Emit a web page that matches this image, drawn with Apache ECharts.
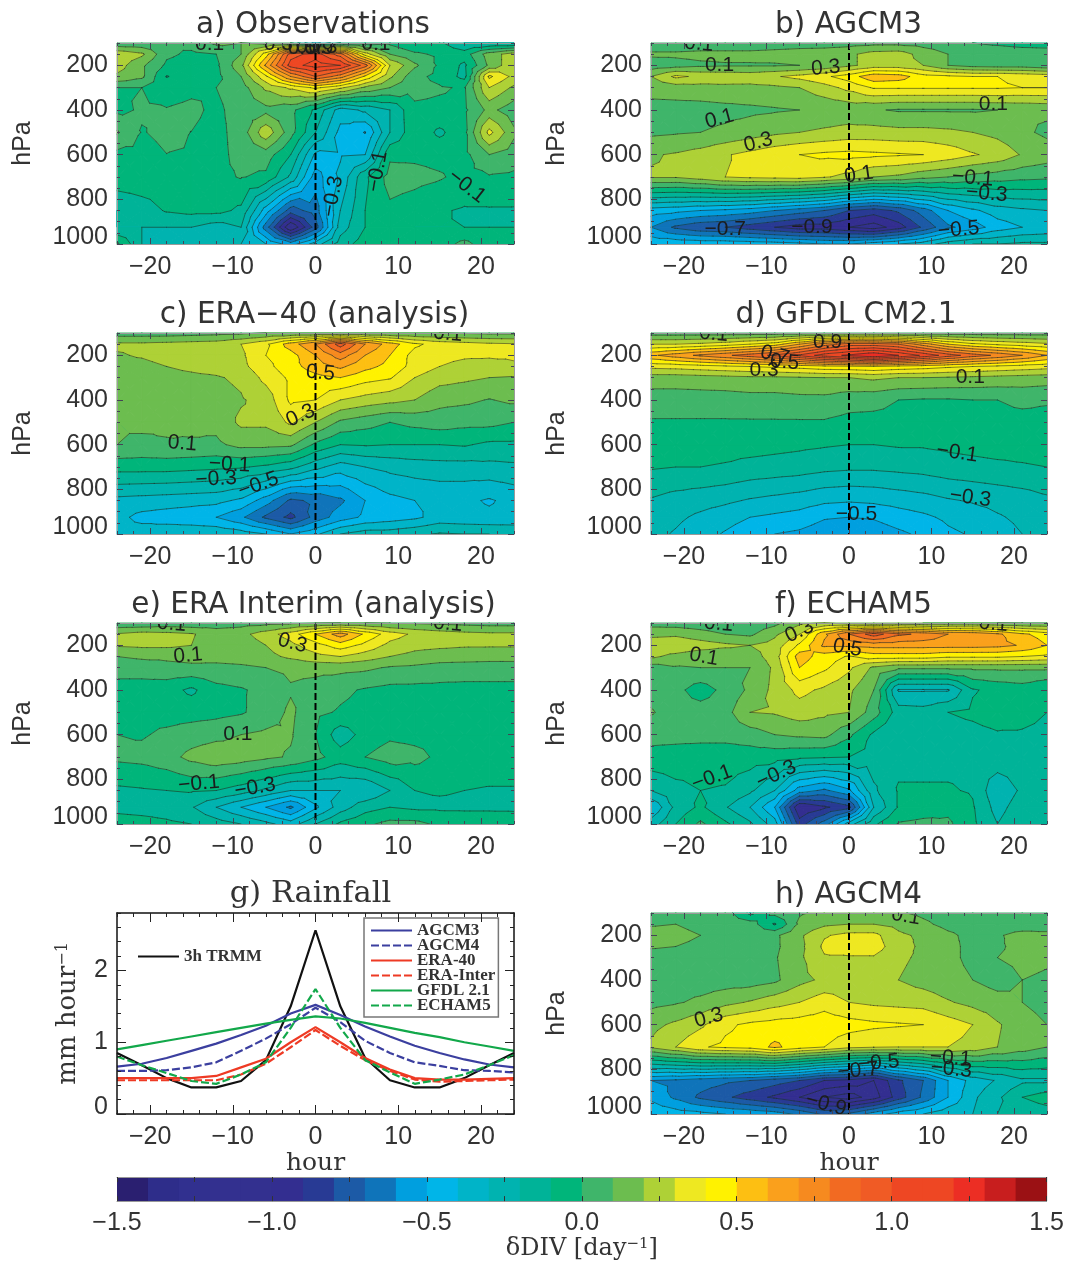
<!DOCTYPE html>
<html>
<head>
<meta charset="utf-8">
<script src="https://cdn.jsdelivr.net/npm/echarts@6/dist/echarts.min.js"></script>
<style>html,body{margin:0;padding:0;background:#fff}#c{width:1067px;height:1262px}</style>
</head>
<body>
<div id="c"></div>
<script>
const hours=[-24,-21,-18,-15,-12,-9,-6,-3,0,3,6,9,12,15,18,21,24];
const levels=[100,150,200,250,300,400,500,600,700,850,925,1000];
const xTickLabels=[-20,-10,0,10,20];
const pTickLabels=[200,400,600,800,1000];
const bandColors=['#2a1f70','#2e2d8a','#31308f','#33308f','#33308f','#332e90','#283a94','#1c5aa6','#0f74ba','#009fdf','#00b5e8','#00b4c8','#00b3b0','#00b398','#00b57a','#3fb56a','#6cbd4f','#aed136','#eee821','#fff200','#fdbf12','#faa01c','#f68a1f','#f26a22','#f05b25','#ee4723','#ee4723','#ec2e24','#c81e1e','#9b1114'];
const barEdges=[-1.5,-1.4,-1.3,-1.2,-1.1,-1,-.9,-.8,-.7,-.6,-.5,-.4,-.3,-.2,-.1,0,.1,.2,.3,.4,.5,.6,.7,.8,.9,1,1.1,1.2,1.3,1.4,1.5];
const barTicks=[-1.5,-1.25,-1,-.75,-.5,-.25,0,.25,.5,.75,1,1.25,1.5];
const barLabels=[-1.5,-1,-.5,0,.5,1,1.5];

const obsDiv=[
[.02,.02,0,.04,.12,.1,.08,0,-.35,-.1,-.05,-.02,-.1,-.08,-.2,-.2,-.2],
[.28,.22,.02,-.02,0,.1,.45,.95,1.05,.85,.35,.1,.02,-.02,-.05,.15,.25],
[.25,.12,-.02,-.05,-.02,.17,.62,1.05,1.15,1.1,.85,.3,.12,-.02,-.12,.12,.28],
[.18,.12,-.105,-.05,-.03,.1,.38,.7,.9,.75,.48,.22,.03,-.03,-.13,.42,.27],
[0,0,-.04,-.02,0,.05,.22,.32,.42,.32,.18,.1,.03,.01,-.01,.3,.18],
[-.02,.01,.005,.02,-.02,.04,.07,.03,-.12,-.35,-.28,-.2,-.02,-.02,-.02,.13,.04],
[.11,-.005,.02,-.001,-.03,.04,.27,.04,-.2,-.43,-.505,-.2,-.03,-.12,-.03,.33,.12],
[-.03,-.03,-.001,-.005,-.03,.03,.05,-.1,-.42,-.41,-.4,-.02,-.02,-.03,-.03,.1,.05],
[-.03,-.03,-.03,-.03,-.02,.005,-.02,-.22,-.55,-.38,-.12,.04,.03,.01,-.03,-.01,-.02],
[-.2,-.15,-.09,-.07,-.07,-.12,-.45,-.75,-.65,-.3,-.1,-.02,-.05,-.09,-.11,-.11,-.11],
[-.2,-.2,-.2,-.2,-.25,-.2,-.65,-1.1,-.75,-.25,-.1,-.05,-.1,-.1,-.1,-.1,-.1],
[.02,-.2,-.3,-.3,-.28,-.3,-.4,-.55,-.35,-.15,-.05,-.03,-.04,-.05,.03,-.06,-.05]];
const agcm3Div=[
[.02,.02,.03,.03,.03,.04,.05,.05,.06,.07,.07,.06,.04,0,-.02,-.04,-.05],
[.12,.12,.13,.13,.13,.14,.15,.16,.18,.24,.25,.16,.1,.07,.07,.06,.06],
[.04,.06,.08,.09,.09,.09,.1,.12,.18,.24,.24,.2,.1,.06,.05,.05,.02],
[.2,.32,.28,.27,.26,.29,.33,.38,.45,.57,.55,.44,.42,.4,.4,.38,.36],
[.14,.15,.16,.17,.17,.18,.2,.26,.33,.41,.41,.41,.41,.41,.41,.4,.4],
[.06,.06,.06,.07,.08,.09,.1,.12,.13,.11,.09,.09,.09,.09,.1,.11,.12],
[.08,.09,.1,.12,.15,.18,.2,.22,.24,.24,.23,.23,.22,.2,.17,.12,.08],
[.19,.21,.24,.29,.33,.37,.4,.42,.43,.42,.41,.4,.36,.31,.27,.19,.15],
[.21,.21,.25,.3,.32,.33,.34,.31,.27,.2,.18,.13,.1,.07,.05,.03,.02],
[-.45,-.47,-.5,-.52,-.55,-.6,-.65,-.7,-.8,-.85,-.78,-.65,-.5,-.42,-.35,-.32,-.3],
[-.6,-.72,-.78,-.8,-.85,-.9,-.95,-.95,-1,-1.05,-.95,-.78,-.62,-.55,-.45,-.4,-.38],
[-.42,-.42,-.43,-.43,-.44,-.45,-.47,-.5,-.5,-.45,-.4,-.35,-.25,-.2,-.2,-.18,-.18]];
const era40Div=[
[.05,.05,.05,.06,.07,.08,.1,.1,.1,.1,.1,.1,.1,.1,.09,.08,.08],
[.22,.22,.23,.24,.25,.3,.38,.55,.7,.95,.7,.55,.42,.36,.34,.32,.31],
[.19,.21,.24,.25,.26,.28,.4,.46,.6,.75,.6,.5,.36,.32,.31,.31,.31],
[.17,.17,.2,.22,.24,.27,.37,.46,.55,.62,.53,.47,.36,.3,.28,.27,.29],
[.15,.15,.17,.18,.19,.22,.33,.42,.47,.5,.44,.41,.3,.24,.22,.2,.19],
[.12,.12,.13,.15,.16,.19,.24,.42,.4,.3,.26,.23,.2,.13,.12,.095,.12],
[.1,.12,.11,.12,.13,.22,.22,.32,.2,.08,.04,0,.03,.05,.03,.03,0],
[.1,.08,.095,.09,.08,.13,.13,.12,-.02,-.1,-.09,-.1,-.1,-.1,-.09,-.12,-.12],
[-.06,-.06,-.06,-.07,-.08,-.09,-.12,-.17,-.27,-.35,-.3,-.27,-.25,-.24,-.24,-.23,-.22],
[-.33,-.34,-.35,-.36,-.37,-.42,-.55,-.72,-.68,-.62,-.5,-.43,-.4,-.38,-.38,-.41,-.37],
[-.37,-.43,-.45,-.47,-.5,-.58,-.72,-.83,-.66,-.55,-.48,-.45,-.42,-.36,-.37,-.38,-.37],
[-.36,-.35,-.33,-.32,-.32,-.35,-.4,-.5,-.42,-.3,-.25,-.25,-.22,-.19,-.2,-.2,-.22]];
const gfdlDiv=[
[.05,.05,.05,.05,.05,.05,.05,.06,.06,.06,.05,.05,.05,.05,.05,.05,.05],
[.3,.3,.32,.35,.4,.45,.6,.75,.85,.85,.8,.65,.5,.42,.38,.35,.32],
[.58,.65,.72,.78,.85,.92,1.02,1.15,1.22,1.3,1.2,1.08,.95,.85,.78,.7,.6],
[.33,.34,.36,.38,.4,.42,.44,.47,.48,.5,.47,.45,.42,.4,.38,.36,.34],
[.15,.15,.16,.17,.18,.18,.19,.2,.2,.22,.2,.2,.19,.18,.17,.16,.15],
[.05,.05,.05,.05,.06,.06,.07,.07,.04,.03,0,-.01,-.01,0,0,.02,.01],
[-.01,-.01,-.01,-.01,-.01,-.01,-.01,-.01,-.03,-.03,-.03,-.03,-.03,-.03,-.03,-.03,-.03],
[-.05,-.05,-.05,-.06,-.06,-.07,-.08,-.09,-.1,-.1,-.09,-.09,-.08,-.07,-.06,-.06,-.05],
[-.09,-.1,-.1,-.11,-.13,-.14,-.15,-.17,-.18,-.18,-.17,-.16,-.14,-.13,-.12,-.11,-.1],
[-.21,-.24,-.26,-.28,-.31,-.33,-.35,-.38,-.39,-.38,-.36,-.34,-.31,-.29,-.27,-.25,-.22],
[-.25,-.28,-.32,-.36,-.4,-.42,-.44,-.49,-.5,-.49,-.45,-.42,-.38,-.35,-.31,-.28,-.26],
[-.27,-.31,-.36,-.41,-.46,-.5,-.52,-.56,-.58,-.56,-.52,-.48,-.42,-.39,-.34,-.3,-.28]];
const eraInterimDiv=[
[.02,.02,.04,.03,.05,.06,.07,.08,.09,.1,.1,.09,.09,.08,.07,.06,.06],
[.21,.24,.23,.21,.15,.17,.25,.35,.5,.65,.48,.35,.28,.25,.23,.22,.22],
[.21,.22,.22,.2,.14,.14,.2,.27,.36,.45,.37,.27,.23,.22,.21,.21,.21],
[.1,.12,.12,.13,.14,.15,.17,.22,.27,.3,.25,.2,.17,.15,.15,.14,.14],
[.03,.04,.07,.08,.07,.08,.1,.12,.13,.13,.12,.09,.08,.06,.05,.05,.05],
[-.03,-.04,-.06,-.12,-.03,-.01,.03,.09,.06,.02,-.01,-.03,-.03,-.03,-.03,-.03,-.03],
[-.02,-.03,-.04,-.04,-.03,-.01,.04,.12,.02,-.01,-.03,-.03,-.03,-.03,-.03,-.03,-.03],
[0,-.01,.02,.05,.07,.1,.12,.11,0,-.16,-.06,-.02,-.03,-.03,-.03,-.03,-.03],
[.02,.03,.06,.13,.17,.15,.12,.09,.03,-.05,0,.05,.03,-.02,-.03,-.03,-.03],
[-.12,-.11,-.1,-.09,-.1,-.15,-.22,-.3,-.3,-.3,-.3,-.2,-.1,-.09,-.1,-.11,-.11],
[-.13,-.14,-.15,-.19,-.3,-.4,-.5,-.62,-.42,-.25,-.14,-.1,-.12,-.12,-.12,-.12,-.12],
[-.05,-.06,-.08,-.1,-.15,-.2,-.27,-.35,-.2,-.08,-.02,.03,.03,-.02,-.03,-.03,-.04]];
const echam5Div=[
[.06,.05,.04,.02,.03,.07,.18,.2,.15,.12,.12,.1,.1,.1,.1,.09,.09],
[.17,.18,.14,.1,.08,.18,.3,.58,.8,.95,.82,.78,.7,.68,.62,.52,.45],
[.27,.28,.25,.22,.2,.24,.42,.62,.62,.64,.64,.64,.64,.64,.63,.59,.5],
[.22,.17,.13,.13,.15,.25,.55,.45,.39,.45,.45,.45,.42,.42,.42,.4,.38],
[.05,.09,.1,.1,.1,.22,.5,.42,.32,.18,.12,.12,.12,.12,.12,.12,.12],
[.06,.03,-.05,.03,.12,.23,.33,.28,.22,.1,-.31,-.31,-.31,-.11,-.07,-.05,-.1],
[.11,.05,.05,.06,.2,.21,.25,.22,.2,.05,-.15,-.16,-.1,-.08,-.05,-.07,-.1],
[.03,.03,.03,.03,.05,.1,.12,.13,.02,-.12,-.2,-.16,-.14,-.13,-.11,-.11,-.12],
[-.03,-.04,-.05,-.05,-.05,-.06,-.08,-.09,-.1,-.14,-.13,-.13,-.13,-.13,-.13,-.13,-.13],
[-.2,-.13,-.1,-.11,-.18,-.3,-.55,-.62,-.52,-.22,-.09,-.09,-.09,-.11,-.28,-.18,-.12],
[-.4,-.17,-.08,-.19,-.3,-.5,-1,-.92,-.83,-.3,-.09,-.06,-.03,-.09,-.24,-.14,-.12],
[-.25,-.1,.02,-.08,-.18,-.35,-.85,-.65,-.35,-.12,.01,.03,.02,-.08,-.2,-.11,-.11]];
const agcm4Div=[
[.05,.05,.05,.05,-.12,.03,.09,.12,.12,.12,.11,.08,.05,.05,.05,.05,.05],
[.09,.1,.06,.05,.05,-.11,.12,.18,.2,.2,.17,.12,.07,.05,.05,.05,.06],
[.14,.14,.1,.05,.05,.08,.18,.29,.33,.33,.22,.18,.12,.07,.09,.13,.12],
[.11,.1,.07,.05,.05,.08,.17,.32,.35,.35,.24,.18,.13,.07,.09,.12,.11],
[.06,.06,.06,.06,.06,.09,.18,.29,.29,.29,.22,.18,.12,.08,.1,.12,.11],
[.05,.05,.05,.05,.05,.08,.17,.22,.23,.22,.2,.16,.13,.1,.06,.1,.09],
[.07,.09,.12,.17,.21,.26,.3,.36,.3,.28,.27,.26,.21,.17,.14,.1,.06],
[.17,.22,.28,.38,.42,.44,.45,.46,.44,.42,.41,.4,.35,.3,.21,.15,.1],
[.22,.3,.39,.42,.44,.52,.45,.4,.33,.31,.3,.3,.3,.27,.2,.15,.1],
[-.6,-.62,-.65,-.68,-.7,-.75,-.8,-.9,-.93,-1,-.82,-.7,-.5,-.36,-.29,-.22,-.22],
[-.52,-.62,-.72,-.78,-.85,-.92,-1,-1.1,-1.15,-1.05,-.85,-.68,-.5,-.32,-.22,-.1,-.05],
[-.43,-.45,-.47,-.5,-.52,-.55,-.62,-.72,-.68,-.55,-.45,-.4,-.33,-.3,-.2,-.18,-.15]];

const obsLabels=[[-12.8,104,'0.1',0],[7.3,104,'0.1',0],[-4.5,104,'0.3',0],[-1.6,122,'0.5',0],[-.6,118,'0.7',0],[.4,122,'0.9',0],[.9,118,'0.3',0],[2.1,787,'\u22120.3',80],[7.5,675,'\u22120.1',80],[18.3,742,'\u22120.1',-38]];
const agcm3Labels=[[-18.2,104,'0.1',-5],[-15.7,200,'0.1',0],[-2.8,212,'0.3',5],[17.5,376,'0.1',0],[-15.7,440,'0.1',15],[-11,545,'0.3',15],[1.2,690,'0.1',8],[15,705,'\u22120.1',-5],[16.7,775,'\u22120.3',-5],[-15,932,'\u22120.7',0],[-4.5,924,'\u22120.9',0],[13.3,936,'\u22120.5',5]];
const era40Labels=[[16,104,'0.1',-5],[.6,279,'0.5',-5],[-1.8,470,'0.3',25],[-16.1,595,'0.1',-5],[-10.4,690,'\u22120.1',-3],[-12,754,'\u22120.3',3],[-6.9,780,'\u22120.5',20]];
const gfdlLabels=[[-16.4,104,'0.1',-5],[-2.6,142,'0.9',0],[-9,200,'0.7',-15],[-7.8,231,'0.5',-5],[-10.3,268,'0.3',0],[14.7,300,'0.1',0],[13.1,637,'\u22120.1',-8],[14.7,838,'\u22120.3',-8],[.9,913,'\u22120.5',0]];
const eraInterimLabels=[[-17.4,104,'0.1',-5],[16,104,'0.1',-5],[-2.8,190,'0.3',-15],[-15.4,246,'0.1',5],[-9.4,600,'0.1',0],[-14.1,820,'\u22120.1',5],[-7.3,838,'\u22120.3',10]];
const echam5Labels=[[-15.8,104,'0.1',-5],[17.5,104,'0.1',-5],[-6,137,'0.3',25],[-.2,212,'0.5',-10],[-17.6,252,'0.1',-10],[-16.6,794,'\u22120.1',20],[-8.8,779,'\u22120.3',25]];
const agcm4Labels=[[6.9,115,'0.1',-10],[-17,570,'0.3',15],[3.6,772,'\u22120.5',5],[1.1,806,'\u22120.7',5],[12.3,750,'\u22120.1',-5],[12.4,800,'\u22120.3',-5],[-2.8,958,'\u22120.9',-15]];

const rainTRMM=[.85,.68,.5,.37,.37,.46,.75,1.5,2.56,1.5,.78,.47,.37,.37,.5,.68,.85];
const rainAGCM3=[.66,.7,.78,.88,.98,1.1,1.23,1.4,1.52,1.38,1.22,1.08,.95,.85,.76,.69,.65];
const rainAGCM4=[.6,.6,.61,.65,.72,.88,1.05,1.25,1.48,1.28,1.02,.85,.72,.67,.61,.6,.58];
const rainERA40=[.5,.5,.5,.5,.53,.65,.77,1,1.21,1,.78,.62,.5,.48,.48,.49,.5];
const rainERAInter=[.47,.47,.47,.47,.47,.55,.7,.93,1.17,.95,.75,.6,.48,.45,.46,.47,.48];
const rainGFDL=[.9,.96,1.02,1.08,1.14,1.2,1.26,1.31,1.36,1.33,1.27,1.2,1.13,1.07,1,.94,.88];
const rainECHAM5=[.8,.68,.57,.46,.42,.55,.72,1.2,1.74,1.2,.75,.58,.42,.48,.55,.68,.82];

const SANS='"Liberation Sans"',TITLE='"DejaVu Sans"',SERIF='"DejaVu Serif"',INK='#333';
const panels=[
 {t:'a) Observations',d:obsDiv,l:obsLabels,col:0,row:0,tc:313.5},
 {t:'b) AGCM3',d:agcm3Div,l:agcm3Labels,col:1,row:0,tc:849},
 {t:'c) ERA\u221240 (analysis)',d:era40Div,l:era40Labels,col:0,row:1,tc:315},
 {t:'d) GFDL CM2.1',d:gfdlDiv,l:gfdlLabels,col:1,row:1,tc:846.5},
 {t:'e) ERA Interim (analysis)',d:eraInterimDiv,l:eraInterimLabels,col:0,row:2,tc:314},
 {t:'f) ECHAM5',d:echam5Div,l:echam5Labels,col:1,row:2,tc:854},
 {t:'h) AGCM4',d:agcm4Div,l:agcm4Labels,col:1,row:3,hour:true,tc:849}
];
const lefts=[117,651],widths=[397,396],tops=[43,333,623,913],H=201;
const minor=(a,b,s)=>{const r=[];for(let v=a;v<=b+1e-9;v+=s)r.push(+v.toFixed(3));return r;};
const opt={animation:false,backgroundColor:'#fff',title:[],grid:[],xAxis:[],yAxis:[],legend:[],series:[]};
const fmt=v=>String(v).replace('-','\u2212');

function addAxes(g,ax){
 const lineC=ax.line,lw=ax.lw;
 const base=(extra)=>Object.assign({type:'value',gridIndex:g,z:10,splitLine:{show:false},axisLine:{show:false,onZero:false},axisLabel:{show:false},axisTick:{show:false}},extra);
 const X={min:ax.xr[0],max:ax.xr[1]},Y={min:ax.yr[0],max:ax.yr[1],inverse:!!ax.inverse};
 const tick=(vals,len)=>({show:true,inside:true,length:len,customValues:vals,lineStyle:{color:ax.tick,width:1}});
 opt.xAxis.push(base(Object.assign({},X,{position:'bottom',axisLine:{show:true,onZero:false,lineStyle:{color:lineC,width:lw}},axisTick:tick(xTickLabels,ax.maj),
   axisLabel:{show:true,customValues:xTickLabels,formatter:fmt,margin:11,fontFamily:SANS,fontSize:25,color:INK},
   name:ax.hour?'hour':'',nameLocation:'middle',nameGap:35,nameTextStyle:{fontFamily:SERIF,fontSize:25,color:INK}})));
 opt.xAxis.push(base(Object.assign({},X,{position:'top',axisLine:{show:true,onZero:false,lineStyle:{color:lineC,width:lw}},axisTick:tick(xTickLabels,ax.maj)})));
 opt.xAxis.push(base(Object.assign({},X,{position:'bottom',axisTick:tick(minor(-24,24,2),ax.min)})));
 opt.xAxis.push(base(Object.assign({},X,{position:'top',axisTick:tick(minor(-24,24,2),ax.min)})));
 const lab={show:true,customValues:ax.yl,margin:9,formatter:v=>String(v),fontFamily:SANS,fontSize:25,lineHeight:14,padding:[4,0,0,0],color:INK};
 if(ax.inverse)lab.verticalAlignMaxLabel='bottom';else lab.verticalAlignMinLabel='bottom';
 opt.yAxis.push(base(Object.assign({},Y,{position:'left',axisLine:{show:true,onZero:false,lineStyle:{color:lineC,width:lw}},axisTick:tick(ax.yl,ax.maj),axisLabel:lab,
   name:ax.yname,nameLocation:'middle',nameGap:ax.ygap,nameRotate:90,nameTextStyle:ax.ystyle})));
 opt.yAxis.push(base(Object.assign({},Y,{position:'right',axisLine:{show:true,onZero:false,lineStyle:{color:lineC,width:lw}},axisTick:tick(ax.yl,ax.maj)})));
 opt.yAxis.push(base(Object.assign({},Y,{position:'left',axisTick:tick(ax.ym,ax.min)})));
 opt.yAxis.push(base(Object.assign({},Y,{position:'right',axisTick:tick(ax.ym,ax.min)})));
}
function clipBand(tri,lo,hi){
 const clip=(pts,L,keepAbove)=>{const o=[];for(let i=0;i<pts.length;i++){const a=pts[i],b=pts[(i+1)%pts.length];
   const ia=keepAbove?a[2]>=L:a[2]<=L,ib=keepAbove?b[2]>=L:b[2]<=L;
   if(ia)o.push(a);
   if(ia!==ib){const t=(L-a[2])/(b[2]-a[2]);o.push([a[0]+t*(b[0]-a[0]),a[1]+t*(b[1]-a[1]),L]);}}
  return o;};
 let p=clip(tri,lo,true);if(p.length<3)return null;p=clip(p,hi,false);return p.length<3?null:p;
}
function cellTris(api){
 const a=api.coord([api.value(0),api.value(1)]),b=api.coord([api.value(2),api.value(3)]);
 const v00=api.value(4),v10=api.value(5),v01=api.value(6),v11=api.value(7);
 const P00=[a[0],a[1],v00],P10=[b[0],a[1],v10],P01=[a[0],b[1],v01],P11=[b[0],b[1],v11];
 const C=[(a[0]+b[0])/2,(a[1]+b[1])/2,(v00+v10+v01+v11)/4];
 return [[P00,P10,C],[P10,P11,C],[P11,P01,C],[P01,P00,C]];
}
function fillCell(params,api){
 const kids=[];
 for(const tri of cellTris(api)){
  const mn=Math.min(tri[0][2],tri[1][2],tri[2][2]),mx=Math.max(tri[0][2],tri[1][2],tri[2][2]);
  for(let i=0;i<bandColors.length;i++){
   const lo=i===0?-9:barEdges[i],hi=i===bandColors.length-1?9:barEdges[i+1];
   if(mx<lo||mn>hi)continue;
   const p=clipBand(tri,lo,hi);if(!p)continue;
   kids.push({type:'polygon',silent:true,shape:{points:p.map(q=>[q[0],q[1]])},style:{fill:bandColors[i],stroke:bandColors[i],lineWidth:1}});
  }
 }
 return {type:'group',children:kids};
}
function lineCell(params,api){
 const kids=[];
 for(const tri of cellTris(api)){
  for(let i=1;i<barEdges.length-1;i++){
   const L=barEdges[i],pts=[];
   for(let k=0;k<3;k++){const u=tri[k],w=tri[(k+1)%3];
    if((u[2]<L)!==(w[2]<L)){const t=(L-u[2])/(w[2]-u[2]);pts.push([u[0]+t*(w[0]-u[0]),u[1]+t*(w[1]-u[1])]);}}
   if(pts.length===2)kids.push({type:'line',silent:true,shape:{x1:pts[0][0],y1:pts[0][1],x2:pts[1][0],y2:pts[1][1]},style:{stroke:'rgba(30,45,40,.72)',lineWidth:.8,lineCap:'round'}});
  }
 }
 return {type:'group',children:kids};
}
panels.forEach((P,g)=>{
 const left=lefts[P.col],top=tops[P.row],w=widths[P.col];
 opt.grid.push({left,top,width:w,height:H,containLabel:false});
 opt.title.push({text:P.t,left:P.tc-5.5,top:top-38,textAlign:'center',textStyle:{fontFamily:TITLE,fontWeight:'normal',fontSize:29.5,color:INK}});
 addAxes(g,{xr:[-24,24],yr:[100,1000],inverse:true,yl:pTickLabels,ym:minor(100,1000,50),line:'#9a9a9a',lw:1,tick:'#445',maj:6,min:3,hour:P.hour,
   yname:'hPa',ygap:81,ystyle:{fontFamily:SANS,fontSize:25,color:INK}});
 const cells=[];
 for(let j=0;j<levels.length-1;j++)for(let i=0;i<hours.length-1;i++)
  cells.push([hours[i],levels[j],hours[i+1],levels[j+1],P.d[j][i],P.d[j][i+1],P.d[j+1][i],P.d[j+1][i+1]]);
 const ax={xAxisIndex:g*4,yAxisIndex:g*4};
 const enc={x:[0,2],y:[1,3]};
 opt.series.push(Object.assign({type:'custom',renderItem:fillCell,data:cells,encode:enc,silent:true,progressive:0,z:1},ax));
 opt.series.push(Object.assign({type:'custom',renderItem:lineCell,data:cells,encode:enc,silent:true,progressive:0,z:2},ax));
 opt.series.push(Object.assign({type:'line',data:[[0,100],[0,1000]],symbol:'none',silent:true,lineStyle:{color:'#000',width:2,type:[7,3]},z:3},ax));
 const list=P.l;
 opt.series.push(Object.assign({type:'custom',clip:true,silent:true,progressive:0,z:4,data:list.map(r=>[r[0],r[1],r[3]]),encode:{x:0,y:1},
  renderItem:(params,api)=>{const c=api.coord([api.value(0),api.value(1)]);
   return {type:'text',silent:true,x:c[0],y:c[1],rotation:api.value(2)*Math.PI/180,style:{text:list[params.dataIndex][2],fontFamily:SANS,fontSize:21,fill:'#1c1c1c',align:'center',verticalAlign:'middle'}};}},ax));
});

/* rainfall panel */
const G=panels.length;
opt.grid.push({left:117,top:913,width:397,height:H});
opt.title.push({text:'g) Rainfall',left:305.5,top:913-39,textAlign:'center',textStyle:{fontFamily:SERIF,fontWeight:'normal',fontSize:30.5,color:INK}});
addAxes(G,{xr:[-24,24],yr:[0,2.8],inverse:false,yl:[0,1,2],ym:minor(0,2.8,.2),line:'#111',lw:1.5,tick:'#222',maj:9,min:4,hour:true,
  yname:'{a|mm hour}{s|\u22121}',ygap:36,ystyle:{rich:{a:{fontFamily:SERIF,fontSize:26,color:INK},s:{fontFamily:SERIF,fontSize:16,color:INK,verticalAlign:'top',padding:[0,0,8,0]}}}});
const zip=a=>hours.map((h,i)=>[h,a[i]]);
const rainSeries=[
 ['3h TRMM',rainTRMM,'#111','solid'],
 ['AGCM3',rainAGCM3,'#3b3f9f','solid'],
 ['AGCM4',rainAGCM4,'#3b3f9f','dashed'],
 ['ERA-40',rainERA40,'#ee3a24','solid'],
 ['ERA-Inter',rainERAInter,'#ee3a24','dashed'],
 ['GFDL 2.1',rainGFDL,'#12a84a','solid'],
 ['ECHAM5',rainECHAM5,'#12a84a','dashed']];
rainSeries.forEach(s=>opt.series.push({type:'line',name:s[0],data:zip(s[1]),xAxisIndex:G*4,yAxisIndex:G*4,symbol:'none',silent:true,
  itemStyle:{color:s[2]},lineStyle:{color:s[2],width:2.2,type:s[3]==='dashed'?[8,3]:'solid'}}));
const legTxt={fontFamily:'"Liberation Serif"',fontWeight:'bold',fontSize:17,color:'#333',lineHeight:14};
opt.legend.push({show:true,data:['3h TRMM'],left:137,top:948,itemWidth:41,itemHeight:14,itemGap:0,selectedMode:false,textStyle:legTxt,padding:0,itemStyle:{opacity:0}});
opt.legend.push({show:true,data:['AGCM3','AGCM4','ERA-40','ERA-Inter','GFDL 2.1','ECHAM5'],orient:'vertical',left:364,top:918,itemWidth:41,itemHeight:14,itemGap:-2,selectedMode:false,
  textStyle:legTxt,padding:[4,3,3,6],borderColor:'#777',borderWidth:1.5,backgroundColor:'#fff',align:'left',z:10,itemStyle:{opacity:0}});

/* colour bar */
const B=G+1;
opt.grid.push({left:117,top:1177,width:930,height:25});
opt.xAxis.push({type:'value',gridIndex:B,min:-1.5,max:1.5,position:'bottom',z:10,splitLine:{show:false},
  axisLine:{show:true,onZero:false,lineStyle:{color:'#999',width:1}},axisTick:{show:true,inside:true,length:5,customValues:barTicks,lineStyle:{color:'#333'}},
  axisLabel:{customValues:barLabels,margin:10,formatter:v=>fmt(v.toFixed(1)),fontFamily:SANS,fontSize:25,color:INK,hideOverlap:false},
  name:'{a|\u03b4DIV [day}{s|\u22121}{a|]}',nameLocation:'middle',nameGap:35,
  nameTextStyle:{rich:{a:{fontFamily:SERIF,fontSize:24,color:INK},s:{fontFamily:SERIF,fontSize:15,color:INK,verticalAlign:'top',padding:[0,0,8,0]}}}});
opt.xAxis.push({type:'value',gridIndex:B,min:-1.5,max:1.5,position:'top',z:10,splitLine:{show:false},axisLabel:{show:false},
  axisLine:{show:true,onZero:false,lineStyle:{color:'#999',width:1}},axisTick:{show:true,inside:true,length:5,customValues:barTicks,lineStyle:{color:'#333'}}});
opt.yAxis.push({type:'value',gridIndex:B,min:0,max:1,show:false});
const bx=opt.xAxis.length-2,by=opt.yAxis.length-1;
opt.series.push({type:'custom',xAxisIndex:bx,yAxisIndex:by,silent:true,progressive:0,encode:{x:[0,1]},
  data:bandColors.map((c,i)=>[barEdges[i],barEdges[i+1]]),
  renderItem:(params,api)=>{const a=api.coord([api.value(0),1]),b=api.coord([api.value(1),0]);
   return {type:'rect',silent:true,shape:{x:a[0],y:a[1],width:b[0]-a[0]+.5,height:b[1]-a[1]},style:{fill:bandColors[params.dataIndex]}};}});

const chart=echarts.init(document.getElementById('c'),null,{renderer:'canvas'});
chart.setOption(opt);
</script>
</body>
</html>
